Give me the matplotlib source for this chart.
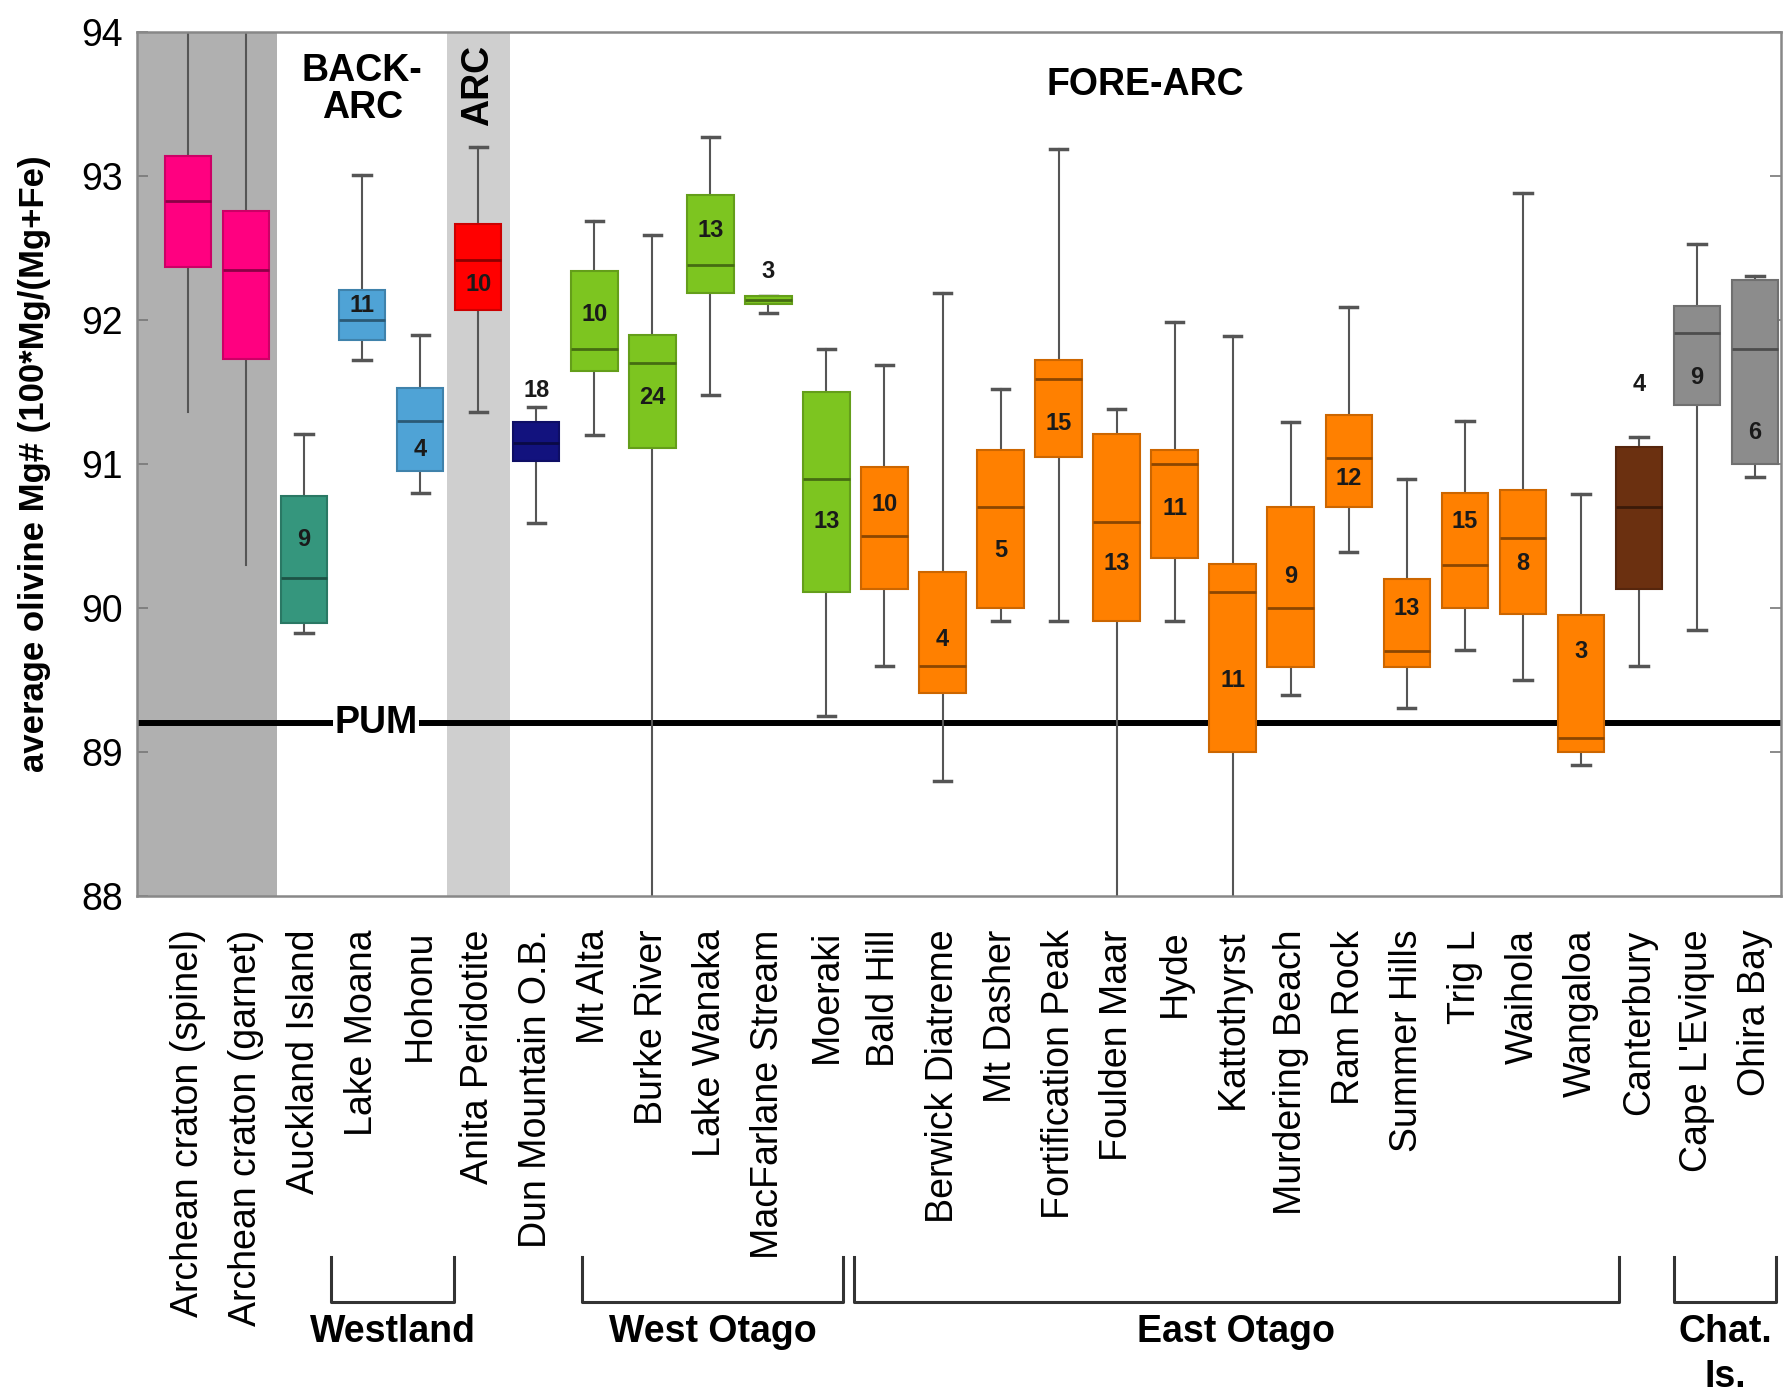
import matplotlib
matplotlib.use("Agg")
import matplotlib.pyplot as plt
import matplotlib.transforms as mtransforms
from matplotlib.colors import to_rgb

plt.rcParams['font.family'] = ['Liberation Sans', 'DejaVu Sans']

# ---- data ----
names = ["Archean craton (spinel)", "Archean craton (garnet)", "Auckland Island",
         "Lake Moana", "Hohonu", "Anita Peridotite", "Dun Mountain O.B.", "Mt Alta",
         "Burke River", "Lake Wanaka", "MacFarlane Stream", "Moeraki", "Bald Hill",
         "Berwick Diatreme", "Mt Dasher", "Fortification Peak", "Foulden Maar", "Hyde",
         "Kattothyrst", "Murdering Beach", "Ram Rock", "Summer Hills", "Trig L",
         "Waihola", "Wangaloa", "Canterbury", "Cape L'Evique", "Ohira Bay"]
whis_hi = [94.6, 94.6, 91.21, 93.01, 91.90, 93.20, 91.40, 92.69, 92.59, 93.27,
           92.17, 91.80, 91.69, 92.19, 91.52, 93.19, 91.38, 91.99, 91.89, 91.29,
           92.09, 90.90, 91.30, 92.88, 90.79, 91.19, 92.53, 92.31]
q3 = [93.14, 92.76, 90.78, 92.21, 91.53, 92.67, 91.29, 92.34, 91.90, 92.87,
      92.17, 91.50, 90.98, 90.25, 91.10, 91.72, 91.21, 91.10, 90.31, 90.70,
      91.34, 90.20, 90.80, 90.82, 89.95, 91.12, 92.10, 92.28]
med = [92.83, 92.35, 90.21, 92.00, 91.30, 92.42, 91.15, 91.80, 91.70, 92.38,
       92.14, 90.90, 90.50, 89.60, 90.70, 91.59, 90.60, 91.00, 90.11, 90.00,
       91.04, 89.70, 90.30, 90.49, 89.10, 90.70, 91.91, 91.80]
q1 = [92.37, 91.73, 89.90, 91.86, 90.95, 92.07, 91.02, 91.65, 91.11, 92.19,
      92.11, 90.11, 90.13, 89.41, 90.00, 91.05, 89.91, 90.35, 89.00, 89.59,
      90.70, 89.59, 90.00, 89.96, 89.00, 90.13, 91.41, 91.00]
whis_lo = [91.36, 90.30, 89.83, 91.72, 90.80, 91.36, 90.59, 91.20, 87.5, 91.48,
           92.05, 89.25, 89.60, 88.80, 89.91, 89.91, 87.5, 89.91, 87.5, 89.40,
           90.39, 89.31, 89.71, 89.50, 88.91, 89.60, 89.85, 90.91]
n_samples = [None, None, 9, 11, 4, 10, 18, 10, 24, 13, 3, 13, 10, 4, 5, 15, 13, 11,
             11, 9, 12, 13, 15, 8, 3, 4, 9, 6]
pum = 89.2

# ---- layout / style ----
label_y = [None, None, 90.48, 92.10, 91.10, 92.25, 91.51, 92.04, 91.46, 92.62,
           92.34, 90.60, 90.72, 89.78, 90.40, 91.28, 90.31, 90.69, 89.50, 90.22,
           90.90, 90.00, 90.60, 90.31, 89.70, 91.55, 91.60, 91.22]
pink, teal, blue, red, navy = '#ff0080', '#35967d', '#4fa3d6', '#ff0000', '#12127e'
green, orange, brown, grey = '#7dc520', '#ff8000', '#6b3010', '#8c8c8c'
colors = [pink, pink, teal, blue, blue, red, navy] + [green] * 5 + [orange] * 13 \
         + [brown, grey, grey]
groups = [("Westland", 3.47, 5.59), ("West Otago", 7.79, 12.28),
          ("East Otago", 12.47, 25.66), ("Chat.\nIs.", 26.6, 28.37)]


def shade(c, f):
    r, g, b = to_rgb(c)
    return (r * f, g * f, b * f)


def main():
    fig = plt.figure(figsize=(17.88, 13.96), dpi=100)
    ax = fig.add_axes([0.0765, 0.358, 0.9195, 0.619])
    pos = list(range(1, len(names) + 1))

    ax.axvspan(0, 2.53, color='#b0b0b0', lw=0, zorder=0)
    ax.axvspan(5.46, 6.54, color='#cfcfcf', lw=0, zorder=0)
    ax.axhline(pum, color='black', lw=4.3, zorder=1)

    stats = [dict(med=m, q1=a, q3=b, whislo=lo, whishi=hi, fliers=[])
             for m, a, b, lo, hi in zip(med, q1, q3, whis_lo, whis_hi)]
    bp = ax.bxp(stats, positions=pos, widths=0.8, patch_artist=True,
                showfliers=False, capwidths=0.3, zorder=2)
    for i, c in enumerate(colors):
        bp['boxes'][i].set(facecolor=c, edgecolor=shade(c, 0.8), lw=1.5, zorder=2)
        bp['medians'][i].set(color=shade(c, 0.55), lw=2, zorder=3)
        for w in bp['whiskers'][2 * i:2 * i + 2]:
            w.set(color='#555555', lw=1.5, zorder=1.5)
        for cp in bp['caps'][2 * i:2 * i + 2]:
            cp.set(color='#555555', lw=2.5, zorder=1.5)
    for i in (0, 1):
        for cp in bp['caps'][2 * i:2 * i + 2]:
            cp.set_visible(False)

    for x, nv, ly in zip(pos, n_samples, label_y):
        if nv is not None:
            ax.text(x, ly, str(nv), ha='center', va='center', fontsize=17,
                    fontweight='bold', color='#1a1a1a', zorder=4)

    ax.text(4.24, pum, 'PUM', ha='center', va='center', fontsize=27,
            fontweight='bold', zorder=4,
            bbox=dict(facecolor='white', edgecolor='none', pad=1))
    ax.text(4.0, 93.6, 'BACK-\nARC', ha='center', va='center', fontsize=27,
            fontweight='bold', linespacing=1.05)
    ax.text(6.0, 93.63, 'ARC', ha='center', va='center', fontsize=27,
            fontweight='bold', rotation=90)
    ax.text(17.5, 93.63, 'FORE-ARC', ha='center', va='center', fontsize=27,
            fontweight='bold')

    ax.set_xlim(0.116, 28.446)
    ax.set_ylim(88, 94)
    ax.set_yticks([88, 89, 90, 91, 92, 93, 94])
    ax.set_xticks(pos)
    ax.set_xticklabels(names, rotation=90, fontsize=27)
    ax.tick_params(axis='x', length=0, pad=24)
    ax.tick_params(axis='y', direction='in', length=8, width=1.2, color='#777777',
                   labelsize=27, right=True, pad=10)
    for s in ax.spines.values():
        s.set_color('#888888')
        s.set_linewidth(1.8)
    ax.set_ylabel('average olivine Mg# (100*Mg/(Mg+Fe)', fontsize=25,
                  fontweight='bold')
    ax.yaxis.set_label_coords(-0.052, 0.5)

    trans = mtransforms.blended_transform_factory(ax.transData, ax.transAxes)
    for label, x0, x1 in groups:
        ax.plot([x0, x0, x1, x1], [-0.417, -0.470, -0.470, -0.417], color='#333333',
                lw=2.2, transform=trans, clip_on=False)
        for k, line in enumerate(label.split('\n')):
            ax.text((x0 + x1) / 2, -0.504 - 0.052 * k, line, ha='center',
                    va='center', fontsize=27, fontweight='bold', transform=trans)

    fig.savefig('out.png')


if __name__ == '__main__':
    main()
